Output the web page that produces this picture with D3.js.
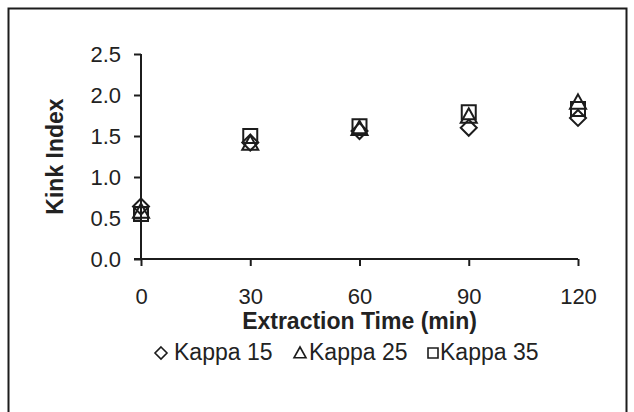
<!DOCTYPE html>
<html>
<head>
<meta charset="utf-8">
<script src="https://cdn.jsdelivr.net/npm/d3@7"></script>
<style>
  html, body { margin: 0; padding: 0; background: #fff; }
  svg { display: block; }
  text { font-family: "Liberation Sans", Arial, sans-serif; fill: #222; }
</style>
</head>
<body>
<svg id="chart" width="634" height="412"></svg>
<script>
// Extraction time (min) on the x axis
const times = [0, 30, 60, 90, 120];
// Kink index per kappa number
const kappa15 = [0.64, 1.42, 1.56, 1.60, 1.72];
const kappa25 = [0.58, 1.41, 1.59, 1.74, 1.91];
const kappa35 = [0.55, 1.50, 1.62, 1.79, 1.83];
const seriesNames = ["Kappa 15", "Kappa 25", "Kappa 35"];
const xTicks = [0, 30, 60, 90, 120];
const yTicks = [0, 0.5, 1.0, 1.5, 2.0, 2.5];

const series = [
  { name: seriesNames[0], values: kappa15, shape: "diamond" },
  { name: seriesNames[1], values: kappa25, shape: "triangle" },
  { name: seriesNames[2], values: kappa35, shape: "square" }
];

const svg = d3.select("#chart");
const ink = "#1c1c1c";
const font = "Liberation Sans, Arial, sans-serif";

// outer frame
svg.append("rect")
  .attr("x", 8.5).attr("y", 8.5)
  .attr("width", 618).attr("height", 420)
  .attr("fill", "none").attr("stroke", ink).attr("stroke-width", 2);

const x = d3.scaleLinear().domain([0, 120]).range([141, 578]);
const y = d3.scaleLinear().domain([0, 2.5]).range([259, 54]);

// y axis
const yAxis = svg.append("g")
  .attr("transform", `translate(${x(0)},0)`)
  .call(d3.axisLeft(y).tickValues(yTicks).tickFormat(d3.format(".1f")).tickSize(7).tickPadding(13));
yAxis.select(".domain").attr("d", `M0,${y(2.5)}V${y(0)}`).attr("stroke", ink).attr("stroke-width", 2);
yAxis.selectAll(".tick line").attr("stroke", ink).attr("stroke-width", 2);
yAxis.selectAll("text").attr("font-size", 22).attr("font-family", font).attr("fill", "#222");

// x axis
const xAxis = svg.append("g")
  .attr("transform", `translate(0,${y(0)})`)
  .call(d3.axisBottom(x).tickValues(xTicks).tickSize(7).tickPadding(22));
xAxis.select(".domain").attr("d", `M${x(0) - 7},0H${x(120)}`).attr("stroke", ink).attr("stroke-width", 2);
xAxis.selectAll(".tick line").attr("stroke", ink).attr("stroke-width", 2);
xAxis.selectAll("text").attr("font-size", 22).attr("font-family", font).attr("fill", "#222");

// axis titles
svg.append("text")
  .attr("x", (x(0) + x(120)) / 2).attr("y", 329)
  .attr("text-anchor", "middle")
  .attr("font-size", 23).attr("font-weight", "bold")
  .text("Extraction Time (min)");

svg.append("text")
  .attr("transform", `translate(63,${(y(0) + y(2.5)) / 2}) rotate(-90)`)
  .attr("text-anchor", "middle")
  .attr("font-size", 23).attr("font-weight", "bold")
  .text("Kink Index");

// marker shapes
function shapePath(shape, r) {
  if (shape === "diamond") return `M0,${-r}L${r},0L0,${r}L${-r},0Z`;
  if (shape === "triangle") return `M0,${-r}L${r},${r * 0.8}L${-r},${r * 0.8}Z`;
  return `M${-r},${-r}H${r}V${r}H${-r}Z`;
}

const markerR = { diamond: 8, triangle: 8, square: 7 };

series.forEach(s => {
  svg.append("g").selectAll("path")
    .data(times.map((t, i) => ({ t, v: s.values[i] })))
    .join("path")
    .attr("transform", d => `translate(${x(d.t)},${y(d.v)})`)
    .attr("d", shapePath(s.shape, markerR[s.shape]))
    .attr("fill", "none")
    .attr("stroke", ink)
    .attr("stroke-width", 2);
});

// legend
const legendItems = [
  { shape: "diamond", label: seriesNames[0], sx: 161, tx: 174 },
  { shape: "triangle", label: seriesNames[1], sx: 300, tx: 309 },
  { shape: "square", label: seriesNames[2], sx: 433, tx: 440 }
];
const legend = svg.append("g");
legendItems.forEach(it => {
  legend.append("path")
    .attr("transform", `translate(${it.sx},353)`)
    .attr("d", shapePath(it.shape, it.shape === "square" ? 5 : 6))
    .attr("fill", "none").attr("stroke", ink).attr("stroke-width", 1.6);
  legend.append("text")
    .attr("x", it.tx).attr("y", 360)
    .attr("font-size", 23)
    .text(it.label);
});
</script>
</body>
</html>
